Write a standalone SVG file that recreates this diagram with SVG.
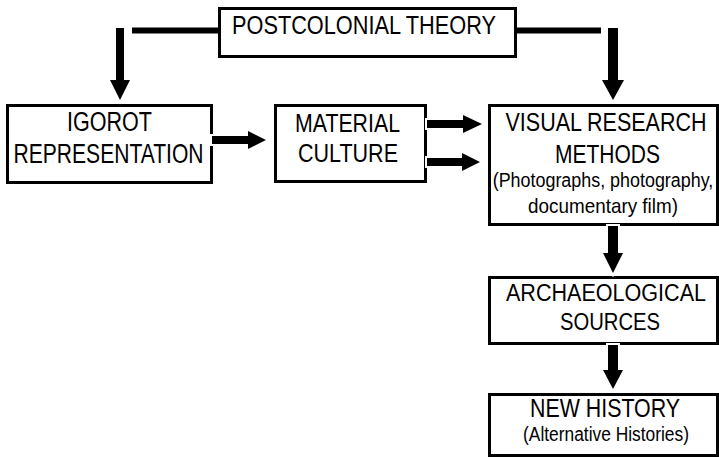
<svg xmlns="http://www.w3.org/2000/svg" width="719" height="457" viewBox="0 0 719 457">
<style>
.box{fill:#fff;stroke:#000;stroke-width:3}
.t{font-family:"Liberation Sans",Arial,sans-serif;fill:#000;text-anchor:middle}
.arr{fill:#000;stroke:#fff;stroke-width:4;paint-order:stroke;stroke-linejoin:miter}
</style>
<rect width="719" height="457" fill="#fff"/>
<g id="postcolonial">
<rect class="box" x="219.5" y="8.5" width="296" height="48"/>
<text class="t" x="364" y="34" font-size="25" textLength="264" lengthAdjust="spacingAndGlyphs">POSTCOLONIAL THEORY</text>
</g>
<g id="igorot">
<rect class="box" x="7.5" y="105.5" width="204" height="77"/>
<text class="t" x="109.5" y="131" font-size="27" textLength="85" lengthAdjust="spacingAndGlyphs">IGOROT</text>
<text class="t" x="108.5" y="163" font-size="28" textLength="190" lengthAdjust="spacingAndGlyphs">REPRESENTATION</text>
</g>
<g id="material">
<rect class="box" x="275.5" y="105.5" width="150" height="76"/>
<text class="t" x="347.5" y="132" font-size="26" textLength="105" lengthAdjust="spacingAndGlyphs">MATERIAL</text>
<text class="t" x="348" y="162" font-size="26" textLength="100" lengthAdjust="spacingAndGlyphs">CULTURE</text>
</g>
<g id="visual">
<rect class="box" x="489.5" y="105.5" width="228" height="119"/>
<text class="t" transform="translate(606,131) scale(0.86,1)" font-size="25">VISUAL RESEARCH</text>
<text class="t" x="607.5" y="163" font-size="26" textLength="105" lengthAdjust="spacingAndGlyphs">METHODS</text>
<text class="t" transform="translate(603,187) scale(0.853,1)" font-size="21">(Photographs, photography,</text>
<text class="t" x="603" y="213" font-size="21" textLength="150" lengthAdjust="spacingAndGlyphs">documentary film)</text>
</g>
<g id="archaeological">
<rect class="box" x="489.5" y="277.5" width="228" height="66"/>
<text class="t" x="606" y="301" font-size="23" textLength="200" lengthAdjust="spacingAndGlyphs">ARCHAEOLOGICAL</text>
<text class="t" x="610" y="330" font-size="24" textLength="100" lengthAdjust="spacingAndGlyphs">SOURCES</text>
</g>
<g id="newhistory">
<rect class="box" x="489.5" y="394.5" width="228" height="61"/>
<text class="t" x="605" y="417" font-size="25" textLength="150" lengthAdjust="spacingAndGlyphs">NEW HISTORY</text>
<text class="t" transform="translate(606,441) scale(0.827,1)" font-size="21">(Alternative Histories)</text>
</g>
<g id="connectors">
<rect x="132" y="27.5" width="87" height="6" fill="#000"/>
<rect x="516" y="27.5" width="85" height="6" fill="#000"/>
<polygon class="arr" points="116,28 124,28 124,80 130,80 120,100 110,80 116,80"/>
<polygon class="arr" points="608,28 618,28 618,80 624,80 613,100 602,80 608,80"/>
<polygon class="arr" points="212,136 248,136 248,131 266,140 248,149 248,144 212,144"/>
<polygon class="arr" points="427,120 463,120 463,115 482,124 463,133 463,128 427,128"/>
<polygon class="arr" points="427,158 462,158 462,153 480,162 462,171 462,166 427,166"/>
<polygon class="arr" points="608,226 618,226 618,253 623,253 613,273 603,253 608,253"/>
<polygon class="arr" points="608,345 618,345 618,370 623,370 613,389 603,370 608,370"/>
</g>
</svg>
